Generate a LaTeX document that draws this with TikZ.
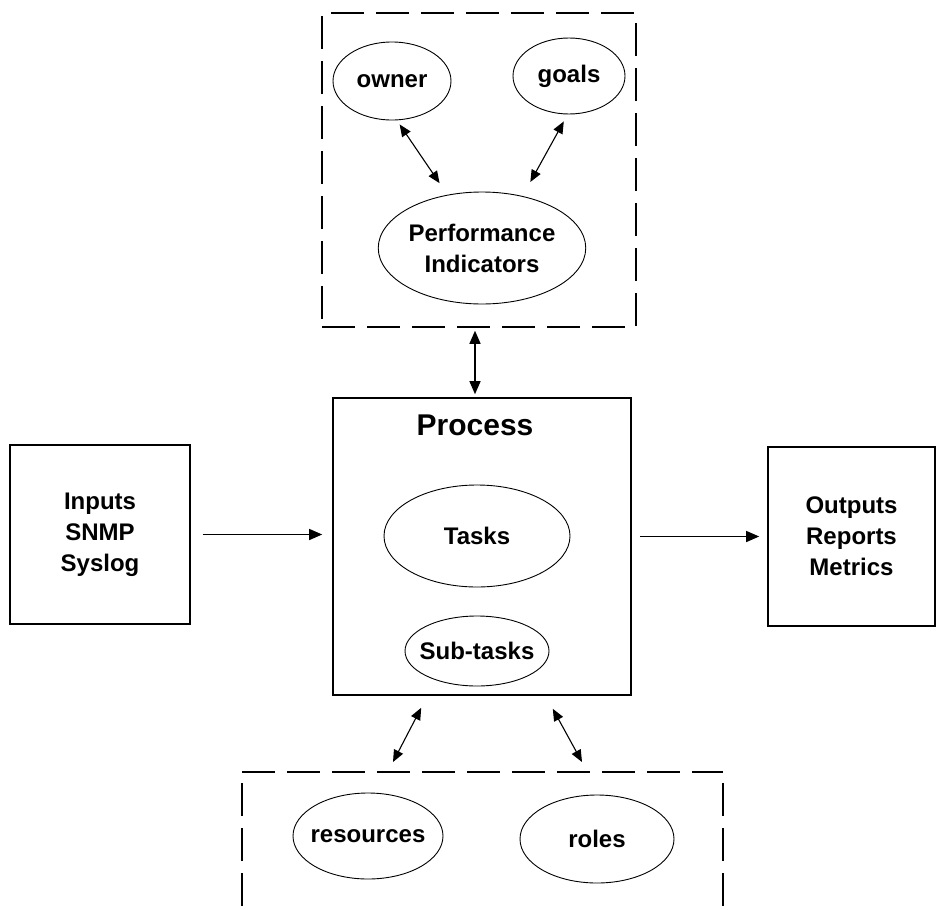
\documentclass[tikz,border=0pt]{standalone}
\usepackage{fontspec}
\setmainfont{Liberation Sans}
\usetikzlibrary{positioning,calc,shapes.geometric,arrows.meta}

\begin{document}
\begin{tikzpicture}[x=1pt, y=-1pt]
\tikzstyle{oval} = [draw, ellipse, line width=0.9pt, inner sep=0pt, align=center, font=\bfseries\fontsize{24}{31}\selectfont];
\tikzstyle{block} = [draw, rectangle, line width=1.6pt, inner sep=0pt, align=center, font=\bfseries\fontsize{24}{31}\selectfont];
\tikzstyle{dashbox} = [draw, rectangle, line width=1.5pt, dash pattern=on 33pt off 12pt, inner sep=0pt];
\tikzstyle{flow} = [line width=1.3pt, -{Triangle[length=13pt, width=11pt]}];
\tikzstyle{both} = [line width=1.1pt, {Triangle[length=12pt, width=10pt]}-{Triangle[length=12pt, width=10pt]}];

\useasboundingbox (0, 0) rectangle (937, 910);

% indicators
\node[dashbox, minimum width=314pt, minimum height=314pt] (kpibox) at (479, 170) {};
\node[oval, minimum width=118pt, minimum height=78pt] (owner) at (392, 81) {owner};
\node[oval, minimum width=112pt, minimum height=76pt] (goals) at (569, 76) {goals};
\node[oval, minimum width=206pt, minimum height=112pt] (pi) at (482, 248) {Performance\\Indicators};

% process
\node[block, minimum width=298pt, minimum height=297pt] (process) at (482, 546.5) {};
\node[font=\bfseries\fontsize{30}{36}\selectfont, inner sep=0pt] (ptitle) at (475, 425) {Process};
\node[oval, minimum width=186pt, minimum height=102pt] (tasks) at (477, 536) {Tasks};
\node[oval, inner xsep=-7pt, minimum width=144pt, minimum height=70pt] (subtasks) at (477, 651) {Sub-tasks};

\node[block, minimum width=180pt, minimum height=179pt] (inputs) at (100, 534.5) {Inputs\\SNMP\\Syslog};
\node[block, minimum width=167pt, minimum height=179pt] (outputs) at (851.5, 536.5) {Outputs\\Reports\\Metrics};

% resources
\draw[line width=1.5pt, dash pattern=on 33pt off 12pt] (242, 772) -- (723, 772);
\draw[line width=1.5pt, dash pattern=on 33pt off 12pt] (242, 783) -- (242, 910);
\draw[line width=1.5pt, dash pattern=on 33pt off 12pt] (723, 783) -- (723, 910);
\node[oval, inner xsep=-7pt, minimum width=150pt, minimum height=86pt] (resources) at (368, 836) {resources};
\node[oval, minimum width=154pt, minimum height=88pt] (roles) at (597, 839) {roles};
\coordinate (resL) at (393, 762);
\coordinate (resR) at (582, 762);

\draw[both, shorten <=5pt, shorten >=14pt] (owner.-83) -- (pi.123);
\draw[both, shorten <=8pt, shorten >=16pt] (goals.-92) -- (pi.52);
\draw[line width=1.3pt, {Triangle[length=13pt, width=11pt]}-{Triangle[length=13pt, width=11pt]}, shorten <=3pt, shorten >=3pt] (kpibox.south -| ptitle) -- (process.north -| ptitle);
\draw[flow, shorten <=12pt, shorten >=10pt] (inputs.east) -- (inputs.east -| process.west);
\draw[flow, shorten <=8pt, shorten >=8pt] (process.east |- outputs.west) -- (outputs.west);
\draw[both] ([xshift=89pt, yshift=-12pt]process.south west) -- (resL);
\draw[both] ([xshift=-79pt, yshift=-13pt]process.south east) -- (resR);
\end{tikzpicture}
\end{document}
